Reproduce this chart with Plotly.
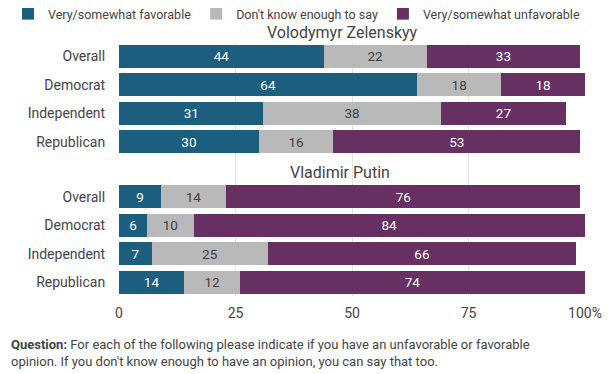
import plotly.graph_objects as go
from plotly.subplots import make_subplots

groups = ["Overall", "Democrat", "Independent", "Republican"]
panel_titles = ["Volodymyr Zelenskyy", "Vladimir Putin"]
series_names = ["Very/somewhat favorable", "Don't know enough to say", "Very/somewhat unfavorable"]

zelenskyy_fav = [44, 64, 31, 30]
zelenskyy_dk = [22, 18, 38, 16]
zelenskyy_unfav = [33, 18, 27, 53]

putin_fav = [9, 6, 7, 14]
putin_dk = [14, 10, 25, 12]
putin_unfav = [76, 84, 66, 74]

x_ticks = [0, 25, 50, 75, 100]
x_tick_labels = ["0", "25", "50", "75", "100%"]

colors = ["#1b5e7d", "#b9b9b9", "#663062"]
text_colors = ["#ffffff", "#404040", "#ffffff"]

# the page puts the figure 8px from the top-left corner of the window
OFF = 8
W, H = 612 - OFF, 374 - OFF
ML, MR, MT, MB = 119 - OFF, 27, 43 - OFF, 78
pw = W - ML - MR
ph = H - MT - MB


def px_x(p):
    # window pixel -> paper x
    return (p - OFF - ML) / pw


def px_y(p):
    # window pixel -> paper y
    return (H - MB - (p - OFF)) / ph


fig = make_subplots(rows=2, cols=1, shared_xaxes=True, vertical_spacing=0)

panels = [
    (zelenskyy_fav, zelenskyy_dk, zelenskyy_unfav),
    (putin_fav, putin_dk, putin_unfav),
]

for r, vals in enumerate(panels, start=1):
    for i, (name, v) in enumerate(zip(series_names, vals)):
        fig.add_trace(
            go.Bar(
                y=groups,
                x=v,
                name=name,
                orientation="h",
                marker=dict(color=colors[i], line=dict(width=0)),
                text=v,
                texttemplate="%{x}",
                textposition="inside",
                insidetextanchor="middle",
                textangle=0,
                constraintext="none",
                insidetextfont=dict(color=text_colors[i], size=13.5, family="Roboto"),
                showlegend=(r == 1),
                legendgroup=name,
                hoverinfo="skip",
            ),
            row=r,
            col=1,
        )

split = px_y(156)
yaxis_common = dict(
    categoryorder="array",
    categoryarray=groups,
    ticks="outside",
    ticklen=10,
    tickcolor="rgba(0,0,0,0)",
    showgrid=False,
    tickfont=dict(size=14, color="#444444"),
)
fig.update_layout(
    barmode="stack",
    bargap=0.19,
    width=W,
    height=H,
    margin=dict(l=ML, r=MR, t=MT, b=MB, autoexpand=False),
    paper_bgcolor="white",
    plot_bgcolor="white",
    font=dict(family="Roboto", color="#444444", size=14),
    legend=dict(
        orientation="h",
        x=px_x(OFF),
        xanchor="left",
        y=px_y(14),
        yanchor="middle",
        font=dict(size=12.5, color="#444444"),
        itemwidth=30,
        traceorder="normal",
        bgcolor="rgba(0,0,0,0)",
        borderwidth=0,
    ),
    yaxis=dict(domain=[split, 1], range=[3.5, -0.47], **yaxis_common),
    yaxis2=dict(domain=[0, split], range=[3.49, -1.44], **yaxis_common),
    xaxis=dict(range=[0, 100], tickvals=x_ticks, showgrid=True, gridcolor="#e3e3e3",
               zeroline=False, showticklabels=False),
    xaxis2=dict(
        range=[0, 100],
        tickvals=x_ticks,
        ticktext=x_tick_labels,
        showgrid=True,
        gridcolor="#e3e3e3",
        gridwidth=1,
        zeroline=False,
        ticks="outside",
        ticklen=4,
        tickcolor="rgba(0,0,0,0)",
        tickfont=dict(size=14, color="#444444"),
    ),
)

fig.add_annotation(
    text=panel_titles[0], xref="paper", yref="paper", x=px_x(342), y=px_y(32),
    xanchor="center", yanchor="middle", showarrow=False,
    font=dict(size=16, color="#444444"),
)
fig.add_annotation(
    text=panel_titles[1], xref="paper", yref="paper", x=px_x(340), y=px_y(173),
    xanchor="center", yanchor="middle", showarrow=False,
    font=dict(size=16, color="#444444"),
)

note = ("<b>Question:</b> For each of the following please indicate if you have an unfavorable or favorable<br>"
        "opinion. If you don't know enough to have an opinion, you can say that too.")
fig.add_annotation(
    text=note, xref="paper", yref="paper", x=px_x(9), y=px_y(335),
    xanchor="left", yanchor="top", align="left", showarrow=False,
    font=dict(size=13, color="#444444"),
)

fig.write_html("out.html")
